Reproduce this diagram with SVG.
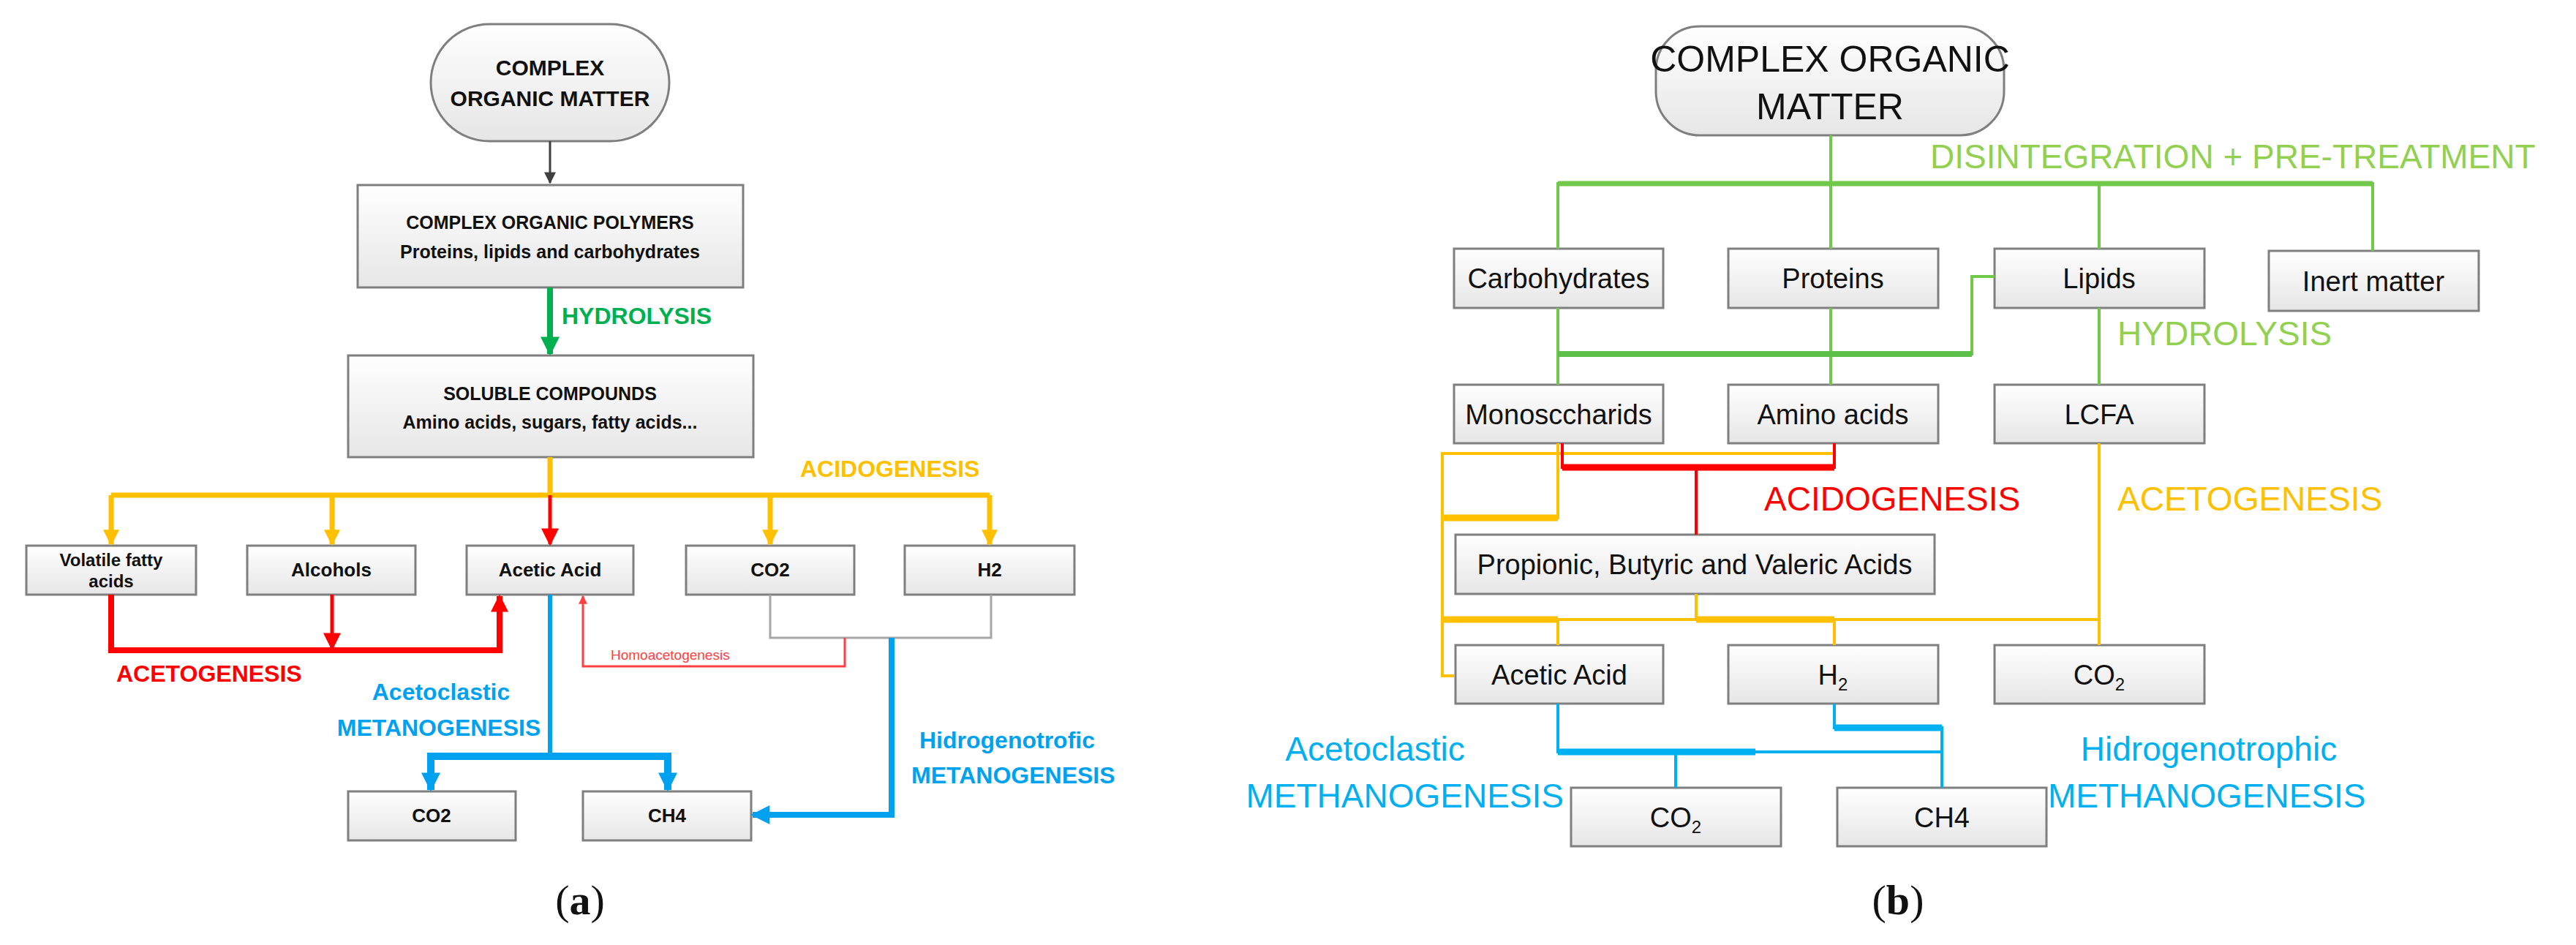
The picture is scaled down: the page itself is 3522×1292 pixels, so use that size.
<svg xmlns="http://www.w3.org/2000/svg" width="3522" height="1292" viewBox="0 0 3522 1292">
<defs>
<linearGradient id="g" x1="0" y1="0" x2="0" y2="1"><stop offset="0" stop-color="#ffffff"/><stop offset="1" stop-color="#e6e6e6"/></linearGradient>
<marker id="ab" viewBox="0 0 10 10" refX="9" refY="5" markerWidth="18" markerHeight="16" orient="auto" markerUnits="userSpaceOnUse"><path d="M0,0L10,5L0,10z" fill="#404040"/></marker>
<marker id="ay" viewBox="0 0 10 10" refX="9" refY="5" markerWidth="28" markerHeight="22" orient="auto" markerUnits="userSpaceOnUse"><path d="M0,0L10,5L0,10z" fill="#ffc000"/></marker>
<marker id="ar" viewBox="0 0 10 10" refX="9" refY="5" markerWidth="30" markerHeight="24" orient="auto" markerUnits="userSpaceOnUse"><path d="M0,0L10,5L0,10z" fill="#ff0000"/></marker>
<marker id="art" viewBox="0 0 10 10" refX="9" refY="5" markerWidth="18" markerHeight="12" orient="auto" markerUnits="userSpaceOnUse"><path d="M0,0L10,5L0,10z" fill="#ff4040"/></marker>
<marker id="ag" viewBox="0 0 10 10" refX="9" refY="5" markerWidth="34" markerHeight="26" orient="auto" markerUnits="userSpaceOnUse"><path d="M0,0L10,5L0,10z" fill="#00b050"/></marker>
<marker id="abl" viewBox="0 0 10 10" refX="9" refY="5" markerWidth="34" markerHeight="26" orient="auto" markerUnits="userSpaceOnUse"><path d="M0,0L10,5L0,10z" fill="#00a2f0"/></marker>
</defs>
<style>
.b{fill:url(#g);stroke:#7f7f7f;stroke-width:3}
.t{font-family:"Liberation Sans",Arial,sans-serif;fill:#111;text-anchor:middle}
.l{font-family:"Liberation Sans",Arial,sans-serif;font-weight:bold}
.w{fill:none}
</style>
<rect width="3522" height="1292" fill="#fff"/>

<!-- LEFT (a) -->
<g id="a-com"><rect class="b" x="589" y="33" width="326" height="160" rx="80"/><text class="t" x="752" y="103" font-size="30" font-weight="bold">COMPLEX</text><text class="t" x="752" y="145" font-size="30" font-weight="bold">ORGANIC MATTER</text></g>
<g id="a-pol"><rect class="b" x="489" y="253" width="527" height="140"/><text class="t" x="752" y="313" font-size="25" font-weight="bold">COMPLEX ORGANIC POLYMERS</text><text class="t" x="752" y="353" font-size="25" font-weight="bold">Proteins, lipids and carbohydrates</text></g>
<g id="a-sol"><rect class="b" x="476" y="486" width="554" height="139"/><text class="t" x="752" y="547" font-size="25" font-weight="bold">SOLUBLE COMPOUNDS</text><text class="t" x="752" y="586" font-size="25" font-weight="bold">Amino acids, sugars, fatty acids...</text></g>
<g id="a-vfa"><rect class="b" x="36" y="746" width="232" height="67"/><text class="t" x="152" y="774" font-size="24" font-weight="bold">Volatile fatty</text><text class="t" x="152" y="803" font-size="24" font-weight="bold">acids</text></g>
<g id="a-alc"><rect class="b" x="338" y="746" width="230" height="67"/><text class="t" x="453" y="788" font-size="26" font-weight="bold">Alcohols</text></g>
<g id="a-ace"><rect class="b" x="638" y="746" width="228" height="67"/><text class="t" x="752" y="788" font-size="26" font-weight="bold">Acetic Acid</text></g>
<g id="a-co2"><rect class="b" x="938" y="746" width="230" height="67"/><text class="t" x="1053" y="788" font-size="26" font-weight="bold">CO2</text></g>
<g id="a-h2"><rect class="b" x="1237" y="746" width="232" height="67"/><text class="t" x="1353" y="788" font-size="26" font-weight="bold">H2</text></g>
<g id="a-co2b"><rect class="b" x="476" y="1082" width="229" height="67"/><text class="t" x="590" y="1124" font-size="26" font-weight="bold">CO2</text></g>
<g id="a-ch4"><rect class="b" x="797" y="1082" width="230" height="67"/><text class="t" x="912" y="1124" font-size="26" font-weight="bold">CH4</text></g>

<g id="a-connectors" class="w">
<path d="M752,193V250" stroke="#404040" stroke-width="3" marker-end="url(#ab)"/>
<path d="M752,393V484" stroke="#00b050" stroke-width="8" marker-end="url(#ag)"/>
<path d="M752,625V677M152,677H1353M152,677V744M454,677V744M1053,677V744M1353,677V744" stroke="#ffc000" stroke-width="7" fill="none"/>
<path d="M152,720V744" stroke="#ffc000" stroke-width="1" marker-end="url(#ay)"/>
<path d="M454,720V744" stroke="#ffc000" stroke-width="1" marker-end="url(#ay)"/>
<path d="M1053,720V744" stroke="#ffc000" stroke-width="1" marker-end="url(#ay)"/>
<path d="M1353,720V744" stroke="#ffc000" stroke-width="1" marker-end="url(#ay)"/>
<path d="M752,677V744" stroke="#ff0000" stroke-width="5" marker-end="url(#ar)"/>
<path d="M152,813V889H683V815" stroke="#ff0000" stroke-width="8" fill="none" marker-end="url(#ar)"/>
<path d="M454,813V887" stroke="#ff0000" stroke-width="5" marker-end="url(#ar)"/>
<path d="M1053,813V872H1355V813" stroke="#a6a6a6" stroke-width="3" fill="none"/>
<path d="M1155,872V911H797V815" stroke="#ff4040" stroke-width="3" fill="none" marker-end="url(#art)"/>
<path d="M752,813V1034" stroke="#00a2f0" stroke-width="6" fill="none"/>
<path d="M589,1080V1034H913V1080" stroke="#00a2f0" stroke-width="10" fill="none"/>
<path d="M589,1050V1080" stroke="#00a2f0" stroke-width="1" marker-end="url(#abl)"/>
<path d="M913,1050V1080" stroke="#00a2f0" stroke-width="1" marker-end="url(#abl)"/>
<path d="M1219,872V1114H1029" stroke="#00a2f0" stroke-width="8" fill="none" marker-end="url(#abl)"/>
</g>
<g id="a-labels">
<text class="l" x="768" y="443" font-size="32" fill="#00b050">HYDROLYSIS</text>
<text class="l" x="1094" y="652" font-size="32" fill="#ffc000">ACIDOGENESIS</text>
<text class="l" x="159" y="932" font-size="32" fill="#ff0000">ACETOGENESIS</text>
<text x="835" y="902" font-size="19" fill="#ff4040" font-family="Liberation Sans,Arial,sans-serif">Homoacetogenesis</text>
<text class="l" x="603" y="957" font-size="32" fill="#00a2f0" text-anchor="middle">Acetoclastic</text>
<text class="l" x="600" y="1006" font-size="32" fill="#00a2f0" text-anchor="middle">METANOGENESIS</text>
<text class="l" x="1257" y="1023" font-size="32" fill="#00a2f0">Hidrogenotrofic</text>
<text class="l" x="1246" y="1071" font-size="32" fill="#00a2f0">METANOGENESIS</text>
<text x="793" y="1250" font-size="58" fill="#111" text-anchor="middle" font-family="Liberation Serif,serif">(<tspan font-weight="bold">a</tspan>)</text>
</g>

<!-- RIGHT (b) -->
<g id="b-com"><rect class="b" x="2264" y="36" width="476" height="149" rx="60"/><text class="t" x="2502" y="98" font-size="50">COMPLEX ORGANIC</text><text class="t" x="2502" y="163" font-size="50">MATTER</text></g>
<g id="b-carb"><rect class="b" x="1988" y="340" width="286" height="81"/><text class="t" x="2131" y="394" font-size="38">Carbohydrates</text></g>
<g id="b-prot"><rect class="b" x="2363" y="340" width="287" height="81"/><text class="t" x="2506" y="394" font-size="38">Proteins</text></g>
<g id="b-lip"><rect class="b" x="2727" y="340" width="287" height="81"/><text class="t" x="2870" y="394" font-size="38">Lipids</text></g>
<g id="b-inert"><rect class="b" x="3102" y="343" width="287" height="82"/><text class="t" x="3245" y="398" font-size="38">Inert matter</text></g>
<g id="b-mono"><rect class="b" x="1988" y="526" width="286" height="80"/><text class="t" x="2131" y="580" font-size="38">Monosccharids</text></g>
<g id="b-amino"><rect class="b" x="2363" y="526" width="287" height="80"/><text class="t" x="2506" y="580" font-size="38">Amino acids</text></g>
<g id="b-lcfa"><rect class="b" x="2727" y="526" width="287" height="80"/><text class="t" x="2870" y="580" font-size="38">LCFA</text></g>
<g id="b-prop"><rect class="b" x="1990" y="731" width="655" height="81"/><text class="t" x="2317" y="785" font-size="38">Propionic, Butyric and Valeric Acids</text></g>
<g id="b-ace"><rect class="b" x="1990" y="882" width="284" height="80"/><text class="t" x="2132" y="936" font-size="38">Acetic Acid</text></g>
<g id="b-h2"><rect class="b" x="2363" y="882" width="287" height="80"/><text class="t" x="2506" y="936" font-size="38">H<tspan font-size="24" dy="8">2</tspan></text></g>
<g id="b-co2"><rect class="b" x="2727" y="882" width="287" height="80"/><text class="t" x="2870" y="936" font-size="38">CO<tspan font-size="24" dy="8">2</tspan></text></g>
<g id="b-co2b"><rect class="b" x="2148" y="1077" width="287" height="80"/><text class="t" x="2291" y="1131" font-size="38">CO<tspan font-size="24" dy="8">2</tspan></text></g>
<g id="b-ch4"><rect class="b" x="2512" y="1077" width="286" height="80"/><text class="t" x="2655" y="1131" font-size="38">CH4</text></g>

<g id="b-connectors" fill="none">
<path d="M2503,185V340M2130,340V251H3244V343M2870,251V340" stroke="#70c94a" stroke-width="4"/>
<path d="M2130,251H3244" stroke="#70c94a" stroke-width="7"/>
<path d="M2130,421V526M2503,421V526M2870,421V526M2727,378H2696V484H2130" stroke="#70c94a" stroke-width="4"/>
<path d="M2696,484H2130" stroke="#5cbf4a" stroke-width="8"/>
<path d="M2508,606V620H1972V924H1988M2870,606V882M2319,812V847M1972,847H2870M2130,847V882M2508,847V882M2130,606V708H1972" stroke="#ffc000" stroke-width="4"/>
<path d="M1972,708H2130M1972,847H2130M2319,847H2508" stroke="#ffc000" stroke-width="9"/>
<path d="M2508,606V639H2136V606M2319,639V731" stroke="#ff0000" stroke-width="4"/>
<path d="M2136,639H2508" stroke="#ff0000" stroke-width="9"/>
<path d="M2130,962V1028H2655M2508,962V995H2655V1077M2291,1028V1077" stroke="#00b0f0" stroke-width="4"/>
<path d="M2130,1028H2400M2508,995H2655" stroke="#00b0f0" stroke-width="9"/>
</g>
<g id="b-labels" font-family="Liberation Sans,Arial,sans-serif">
<text x="2639" y="230" font-size="46" fill="#92d050">DISINTEGRATION + PRE-TREATMENT</text>
<text x="2895" y="472" font-size="46" fill="#92d050">HYDROLYSIS</text>
<text x="2412" y="698" font-size="46" fill="#ff0000">ACIDOGENESIS</text>
<text x="2895" y="698" font-size="46" fill="#ffc000">ACETOGENESIS</text>
<text x="1880" y="1040" font-size="46" fill="#00b0f0" text-anchor="middle">Acetoclastic</text>
<text x="2138" y="1104" font-size="46" fill="#00b0f0" text-anchor="end">METHANOGENESIS</text>
<text x="3020" y="1040" font-size="46" fill="#00b0f0" text-anchor="middle">Hidrogenotrophic</text>
<text x="2800" y="1104" font-size="46" fill="#00b0f0">METHANOGENESIS</text>
<text x="2595" y="1250" font-size="58" fill="#111" text-anchor="middle" font-family="Liberation Serif,serif">(<tspan font-weight="bold">b</tspan>)</text>
</g>
</svg>
